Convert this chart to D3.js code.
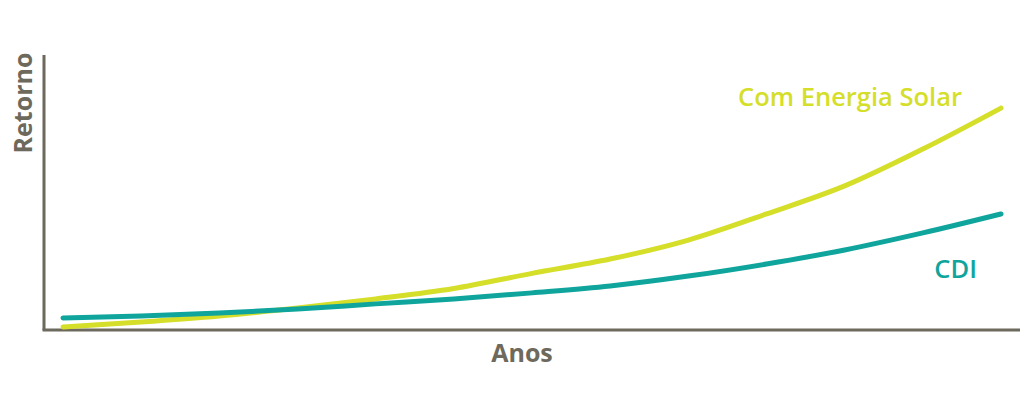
<!DOCTYPE html>
<html>
<head>
<meta charset="utf-8">
<script src="https://cdn.jsdelivr.net/npm/d3@7"></script>
<style>
  body { margin: 0; background: #fff; }
  svg { display: block; }
  text { font-family: "Open Sans", sans-serif; }
</style>
</head>
<body>
<script>
// Years (index) and return values
const years = [0, 1, 2, 3, 4, 5, 6, 7, 8, 9, 10, 11, 12];
const solar = [1.1, 2.9, 5.1, 8.0, 11.3, 15.1, 20.6, 25.8, 32.7, 42.2, 52.4, 65.8, 80.7];
const cdi = [4.4, 5.1, 6.2, 7.6, 9.5, 11.3, 13.5, 16.0, 19.6, 24.0, 29.1, 35.3, 42.2];

const seriesNames = ["Com Energia Solar", "CDI"];
const seriesColors = ["#d5de28", "#0fa59d"];
const axisColor = "#6d695c";

const W = 1024, H = 401;
const axisX = 44, axisBottom = 330, axisTop = 55, axisRight = 1020;

const svg = d3.select("body").append("svg")
    .attr("width", W)
    .attr("height", H);

// Scales
const x = d3.scaleLinear().domain([0, 12]).range([63, 1001]);
const y = d3.scaleLinear().domain([0, 100]).range([axisBottom, axisTop]);

// Axes (plain lines, no ticks)
svg.append("line")
    .attr("x1", axisX).attr("x2", axisX)
    .attr("y1", axisTop).attr("y2", axisBottom)
    .style("stroke", axisColor).style("stroke-width", 3);
svg.append("line")
    .attr("x1", axisX - 1.5).attr("x2", axisRight)
    .attr("y1", axisBottom).attr("y2", axisBottom)
    .style("stroke", axisColor).style("stroke-width", 3);

// Lines
const line = d3.line()
    .x((d, i) => x(years[i]))
    .y(d => y(d))
    .curve(d3.curveMonotoneX);

[solar, cdi].forEach((vals, i) => {
  svg.append("path")
      .attr("d", line(vals))
      .style("fill", "none")
      .style("stroke", seriesColors[i])
      .style("stroke-width", 5)
      .style("stroke-linecap", "round");
});

// Series labels
svg.append("text")
    .attr("x", 962).attr("y", 106)
    .attr("text-anchor", "end")
    .style("font-size", "25.5px").style("font-weight", 600)
    .style("fill", seriesColors[0])
    .text(seriesNames[0]);
svg.append("text")
    .attr("x", 977).attr("y", 278)
    .attr("text-anchor", "end")
    .style("font-size", "25.5px").style("font-weight", 600)
    .style("fill", seriesColors[1])
    .text(seriesNames[1]);

// Axis titles
svg.append("text")
    .attr("x", 522).attr("y", 362)
    .attr("text-anchor", "middle")
    .style("font-size", "25px").style("font-weight", 700)
    .style("fill", axisColor)
    .text("Anos");
svg.append("text")
    .attr("transform", "translate(32,103) rotate(-90)")
    .attr("text-anchor", "middle")
    .style("font-size", "25px").style("font-weight", 700)
    .style("fill", axisColor)
    .text("Retorno");
</script>
</body>
</html>
